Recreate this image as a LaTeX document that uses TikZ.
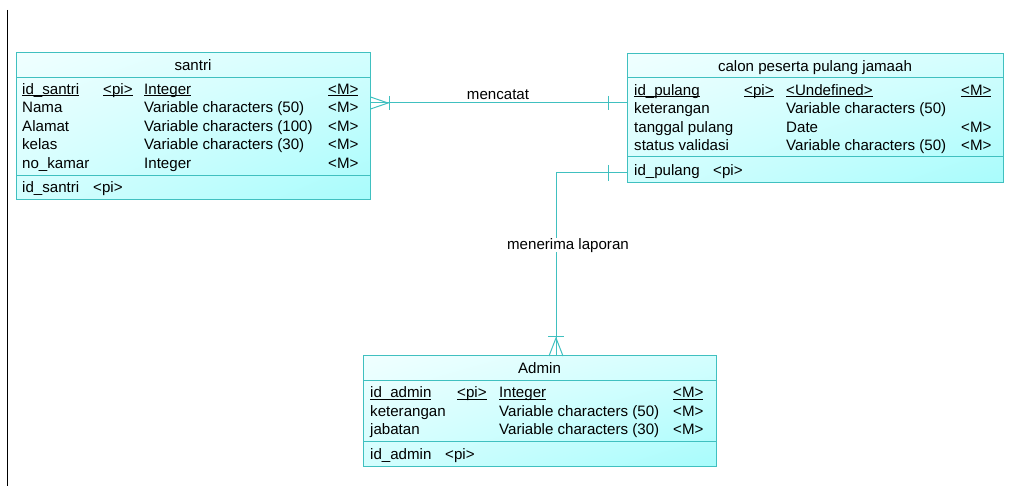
\documentclass[tikz,border=0pt]{standalone}
\usepackage{fontspec}
\setmainfont{Liberation Sans}
\usetikzlibrary{shadings}
\definecolor{teal1}{RGB}{64,192,192}
\definecolor{fillA}{RGB}{240,255,255}
\definecolor{fillB}{RGB}{168,252,252}
\newcommand{\keyul}[1]{\underline{\smash{#1}}}
\begin{document}
\begin{tikzpicture}[x=1pt,y=-1pt,
  entity/.style={draw=teal1, line width=1pt, rectangle, inner sep=0pt, shade,
    upper left=fillA, upper right=fillA!60!fillB, lower left=fillA!60!fillB, lower right=fillB},
  txt/.style={anchor=west, inner sep=0pt, text height=10.5pt, text depth=2pt,
    font=\fontsize{15.1}{17}\selectfont},
  ttl/.style={txt, anchor=center},
  sep/.style={draw=teal1, line width=1pt},
  conn/.style={draw=teal1, line width=1pt},
  lbl/.style={inner sep=1pt, font=\fontsize{15.1}{17}\selectfont, text height=10.5pt, text depth=2pt}]
\useasboundingbox (0,0) rectangle (1029,486);
\draw[line width=1.5pt] (7.5,10) -- (7.5,486);

% ---------- santri ----------
\node[entity, minimum width=354pt, minimum height=147pt] (santri) at (193,126.5) {};
\draw[sep] (16,78) -- (370,78);
\draw[sep] (16,176) -- (370,176);
\node[ttl] (st) at (193,66) {santri};
\node[txt] (s1a) at (22,90) {\keyul{id\_santri}};
\node[txt] (s1b) at (103,90) {\keyul{<pi>}};
\node[txt] (s1c) at (144,90) {\keyul{Integer}};
\node[txt] (s1d) at (328,90) {\keyul{<M>}};
\node[txt] (s2a) at (22,108.5) {Nama};
\node[txt] (s2c) at (144,108.5) {Variable characters (50)};
\node[txt] (s2d) at (328,108.5) {<M>};
\node[txt] (s3a) at (22,127) {Alamat};
\node[txt] (s3c) at (144,127) {Variable characters (100)};
\node[txt] (s3d) at (328,127) {<M>};
\node[txt] (s4a) at (22,145.5) {kelas};
\node[txt] (s4c) at (144,145.5) {Variable characters (30)};
\node[txt] (s4d) at (328,145.5) {<M>};
\node[txt] (s5a) at (22,164) {no\_kamar};
\node[txt] (s5c) at (144,164) {Integer};
\node[txt] (s5d) at (328,164) {<M>};
\node[txt] (s6a) at (22,188.5) {id\_santri};
\node[txt] (s6b) at (93,188.5) {<pi>};

% ---------- calon peserta pulang jamaah ----------
\node[entity, minimum width=376pt, minimum height=129pt] (calon) at (815,118.5) {};
\draw[sep] (627,78) -- (1003,78);
\draw[sep] (627,157) -- (1003,157);
\node[ttl] (ct) at (815,67) {calon peserta pulang jamaah};
\node[txt] (c1a) at (634,91) {\keyul{id\_pulang}};
\node[txt] (c1b) at (744,91) {\keyul{<pi>}};
\node[txt] (c1c) at (786,91) {\keyul{<Undefined>}};
\node[txt] (c1d) at (961,91) {\keyul{<M>}};
\node[txt] (c2a) at (634,109.5) {keterangan};
\node[txt] (c2c) at (786,109.5) {Variable characters (50)};
\node[txt] (c3a) at (634,128) {tanggal pulang};
\node[txt] (c3c) at (786,128) {Date};
\node[txt] (c3d) at (961,128) {<M>};
\node[txt] (c4a) at (634,146.5) {status validasi};
\node[txt] (c4c) at (786,146.5) {Variable characters (50)};
\node[txt] (c4d) at (961,146.5) {<M>};
\node[txt] (c5a) at (634,171) {id\_pulang};
\node[txt] (c5b) at (713,171) {<pi>};

% ---------- Admin ----------
\node[entity, minimum width=353pt, minimum height=110pt] (admin) at (539.5,411) {};
\draw[sep] (363,381) -- (716,381);
\draw[sep] (363,442) -- (716,442);
\node[ttl] (at) at (539.5,369) {Admin};
\node[txt] (a1a) at (370,393.5) {\keyul{id\_admin}};
\node[txt] (a1b) at (457,393.5) {\keyul{<pi>}};
\node[txt] (a1c) at (499,393.5) {\keyul{Integer}};
\node[txt] (a1d) at (673,393.5) {\keyul{<M>}};
\node[txt] (a2a) at (370,412) {keterangan};
\node[txt] (a2c) at (499,412) {Variable characters (50)};
\node[txt] (a2d) at (673,412) {<M>};
\node[txt] (a3a) at (370,430.5) {jabatan};
\node[txt] (a3c) at (499,430.5) {Variable characters (30)};
\node[txt] (a3d) at (673,430.5) {<M>};
\node[txt] (a4a) at (370,455) {id\_admin};
\node[txt] (a4b) at (445,455) {<pi>};

% ---------- mencatat ----------
\coordinate (my) at (0,103);
\coordinate (mfoot) at (388,103);
\draw[conn] (santri.east |- my) -- (calon.west |- my);
\draw[conn] (santri.east |- 0,97) -- (mfoot) -- (santri.east |- 0,109);
\draw[conn] (389,96) -- (389,110);
\draw[conn] (608,96) -- (608,110);
\node[lbl] (mlbl) at (498,95) {mencatat};

% ---------- menerima laporan ----------
\coordinate (ny) at (0,173);
\coordinate (nbend) at (556,173);
\coordinate (nfoot) at (556,338);
\draw[conn] (calon.west |- ny) -- (nbend) -- (nbend |- admin.north);
\draw[conn] (608,165) -- (608,181);
\draw[conn] (548,337) -- (564,337);
\draw[conn] (549,356) -- (nfoot) -- (563,356);
\node[lbl, fill=white] (nlbl) at (568,245) {menerima laporan};
\end{tikzpicture}
\end{document}
